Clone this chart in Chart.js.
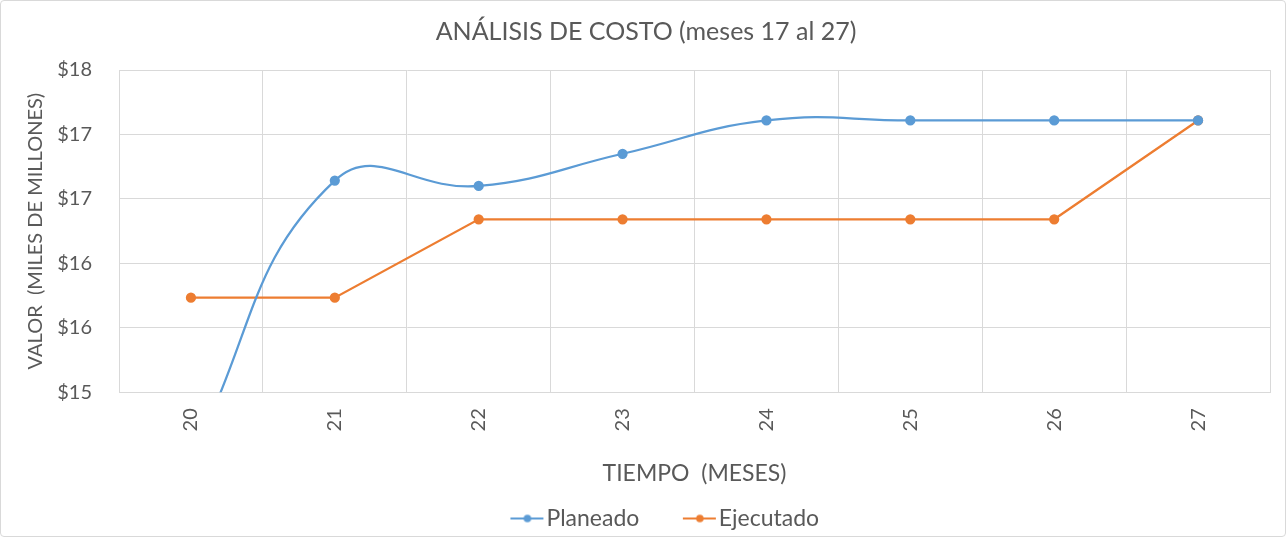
<!DOCTYPE html>
<html>
<head>
<meta charset="utf-8">
<script src="https://cdn.jsdelivr.net/npm/chart.js@4"></script>
<style>
  html, body { margin: 0; padding: 0; background: #fff; }
  #frame {
    width: 1284px; height: 535px;
    border: 1px solid #d9d9d9; border-radius: 4px;
    position: relative; overflow: hidden;
  }
</style>
</head>
<body>
<div id="frame"><canvas id="costChart" width="1284" height="535"></canvas></div>
<script>
const meses = ['20', '21', '22', '23', '24', '25', '26', '27'];
const planeado = [14.4, 16.97, 16.92, 17.22, 17.53, 17.53, 17.53, 17.53];
const ejecutado = [15.88, 15.88, 16.61, 16.61, 16.61, 16.61, 16.61, 17.53];
const yTicks = [15, 15.6, 16.2, 16.8, 17.4, 18];

const gris = '#595959';
const azul = '#5B9BD5';
const naranja = '#ED7D31';
const fuente = 'Lato, "Open Sans", sans-serif';

// legend marker: line with a dot, drawn at the right end of a wider canvas
// so the legend items get Excel-like spacing
const markW = 58;
function marker(color) {
    const c = document.createElement('canvas');
    c.width = markW + 19; c.height = 10;
    const g = c.getContext('2d');
    const x0 = c.width - 34;
    g.strokeStyle = color;
    g.lineWidth = 2;
    g.beginPath(); g.moveTo(x0, 5); g.lineTo(x0 + 33, 5); g.stroke();
    g.fillStyle = color;
    g.beginPath(); g.arc(x0 + 17, 5, 3.8, 0, Math.PI * 2); g.fill();
    return c;
}

const ctx = document.getElementById('costChart').getContext('2d');
new Chart(ctx, {
    type: 'line',
    data: {
        labels: meses,
        datasets: [{
            label: 'Planeado',
            data: planeado,
            borderColor: azul,
            backgroundColor: azul,
            borderWidth: 2.25,
            pointRadius: 4,
            pointHoverRadius: 4,
            tension: 0.45
        }, {
            label: 'Ejecutado',
            data: ejecutado,
            borderColor: naranja,
            backgroundColor: naranja,
            borderWidth: 2.25,
            pointRadius: 4,
            pointHoverRadius: 4,
            tension: 0
        }]
    },
    options: {
        responsive: false,
        animation: false,
        layout: { padding: { left: 21, right: 15, top: 4, bottom: -4 } },
        plugins: {
            title: {
                display: true,
                text: 'ANÁLISIS DE COSTO (meses 17 al 27)',
                color: gris,
                font: { family: fuente, size: 25, weight: 'normal' },
                padding: { top: 12, bottom: 23 }
            },
            legend: {
                position: 'bottom',
                labels: {
                    color: gris,
                    font: { family: fuente, size: 23 },
                    usePointStyle: true,
                    pointStyleWidth: markW,
                    boxHeight: 10,
                    padding: 10,
                    generateLabels(chart) {
                        return chart.data.datasets.map((ds, i) => ({
                            text: ds.label,
                            fontColor: gris,
                            pointStyle: marker(ds.borderColor),
                            datasetIndex: i,
                            hidden: false,
                            lineWidth: 0
                        }));
                    }
                }
            },
            tooltip: { enabled: false }
        },
        scales: {
            x: {
                offset: true,
                grid: { offset: true, color: '#d9d9d9', drawTicks: false },
                border: { color: '#d9d9d9' },
                ticks: {
                    color: gris,
                    font: { family: fuente, size: 20 },
                    minRotation: 90,
                    maxRotation: 90,
                    padding: 16
                },
                title: {
                    display: true,
                    text: 'TIEMPO  (MESES)',
                    color: gris,
                    font: { family: fuente, size: 23 },
                    padding: { top: 12, bottom: 10 }
                }
            },
            y: {
                min: 15,
                max: 18,
                afterBuildTicks(axis) {
                    axis.ticks = yTicks.map(v => ({ value: v }));
                },
                afterFit(axis) {
                    axis.width = 97;
                },
                grid: { color: '#d9d9d9', drawTicks: false },
                border: { color: '#d9d9d9' },
                ticks: {
                    color: gris,
                    font: { family: fuente, size: 20 },
                    padding: 27,
                    callback: v => '$' + Math.round(v)
                },
                title: {
                    display: true,
                    text: 'VALOR  (MILES DE MILLONES)',
                    color: gris,
                    font: { family: fuente, size: 20 },
                    padding: { top: 2, bottom: 0 }
                }
            }
        }
    },
    plugins: [{
        // nudge the legend so the visible part is centred like the original
        id: 'legendShift',
        afterLayout(chart) {
            chart.legend.left += 2;
            chart.legend.right += 2;
        }
    }]
});
</script>
</body>
</html>
